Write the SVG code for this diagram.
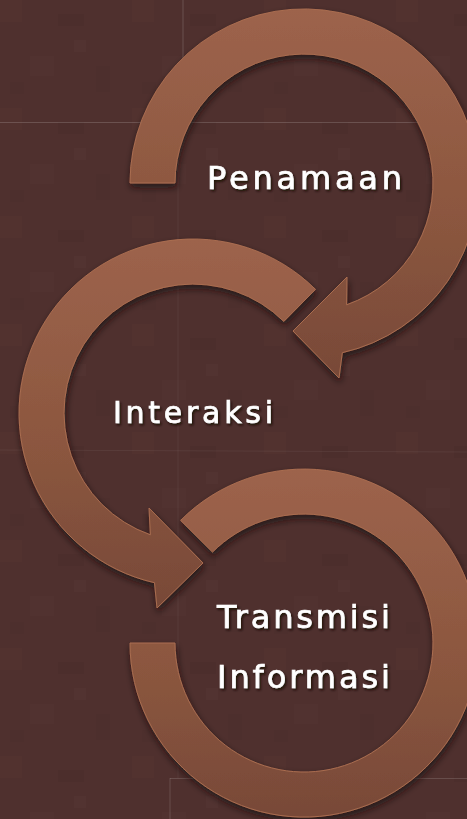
<svg xmlns="http://www.w3.org/2000/svg" width="467" height="819" viewBox="0 0 467 819">
  <style>
    .bgline { stroke: #ffffff; stroke-width: 1; fill: none; }
    .arrow { stroke: #aa6d50; stroke-width: 1; filter: url(#shadow); }
    .label { font-family: "DejaVu Sans", "Open Sans", sans-serif; font-weight: normal; fill: #ffffff; stroke: #ffffff; stroke-width: 0.7; text-anchor: middle; filter: url(#tshadow); }
  </style>
  <defs>
    <linearGradient id="arrowGrad" x1="0" y1="0" x2="0" y2="1">
      <stop offset="0" stop-color="#9d634c"/>
      <stop offset="0.55" stop-color="#8c573f"/>
      <stop offset="1" stop-color="#784938"/>
    </linearGradient>
    <filter id="shadow" x="-20%" y="-20%" width="140%" height="140%">
      <feDropShadow dx="1" dy="4" stdDeviation="3.5" flood-color="#1a0c0a" flood-opacity="0.75"/>
    </filter>
    <filter id="tshadow" x="-10%" y="-30%" width="120%" height="160%">
      <feDropShadow dx="1.5" dy="2" stdDeviation="1.2" flood-color="#140806" flood-opacity="0.85"/>
    </filter>
    <pattern id="tex" width="132" height="108" patternUnits="userSpaceOnUse">
      <rect width="132" height="108" fill="#4f302e"/>
      <rect x="0" y="0" width="22" height="22" fill="#52322f"/>
      <rect x="58" y="14" width="26" height="12" fill="#4c2e2c"/>
      <rect x="30" y="56" width="24" height="20" fill="#513230"/>
      <rect x="96" y="66" width="14" height="26" fill="#4d2f2d"/>
      <rect x="74" y="40" width="12" height="12" fill="#523331"/>
      <rect x="10" y="82" width="14" height="12" fill="#4d2f2d"/>
    </pattern>
  </defs>

  <rect id="background" x="0" y="0" width="467" height="819" fill="url(#tex)"/>
  <g id="background-lines">
    <line class="bgline" x1="183" y1="0" x2="183" y2="122" stroke-opacity="0.16"/>
    <line class="bgline" x1="0" y1="122.5" x2="420" y2="122.5" stroke-opacity="0.16"/>
    <line class="bgline" x1="178" y1="122" x2="178" y2="778" stroke-opacity="0.06"/>
    <line class="bgline" x1="0" y1="450" x2="467" y2="452" stroke-opacity="0.06"/>
    <line class="bgline" x1="170" y1="778.5" x2="467" y2="778.5" stroke-opacity="0.14"/>
    <line class="bgline" x1="170" y1="778" x2="170" y2="819" stroke-opacity="0.14"/>
  </g>

  <g id="connectors">
    <!-- bottom ring (Transmisi Informasi) -->
    <path id="arrow-transmisi" class="arrow" fill="url(#arrowGrad)"
      d="M 130 643 A 174 174 0 1 0 180.6 520.4 L 212.5 552.1 A 129 129 0 1 1 175 643 Z"/>
    <!-- middle arrow (Interaksi) -->
    <path id="arrow-interaksi" class="arrow" fill="url(#arrowGrad)"
      d="M 315.5 289.4 A 174 174 0 1 0 154.5 582.7 L 157 608 L 203 563 L 149 508 L 150.4 534.8 A 129 129 0 1 1 283.8 321.4 Z"/>
    <!-- top arrow (Penamaan) -->
    <path id="arrow-penamaan" class="arrow" fill="url(#arrowGrad)"
      d="M 130 183 A 174 174 0 1 1 342.3 352.7 L 339 378 L 293 331 L 347 277 L 346.6 304.8 A 129 129 0 1 0 175 183 Z"/>
  </g>

  <g id="node-penamaan">
    <text class="label" x="304.5" y="189" font-size="32" textLength="195" lengthAdjust="spacing">Penamaan</text>
  </g>
  <g id="node-interaksi">
    <text class="label" x="193" y="423" font-size="30" textLength="160" lengthAdjust="spacing">Interaksi</text>
  </g>
  <g id="node-transmisi">
    <text class="label" x="303.5" y="628" font-size="32" textLength="173" lengthAdjust="spacing">Transmisi</text>
    <text class="label" x="303.5" y="688" font-size="32" textLength="173" lengthAdjust="spacing">Informasi</text>
  </g>
</svg>
